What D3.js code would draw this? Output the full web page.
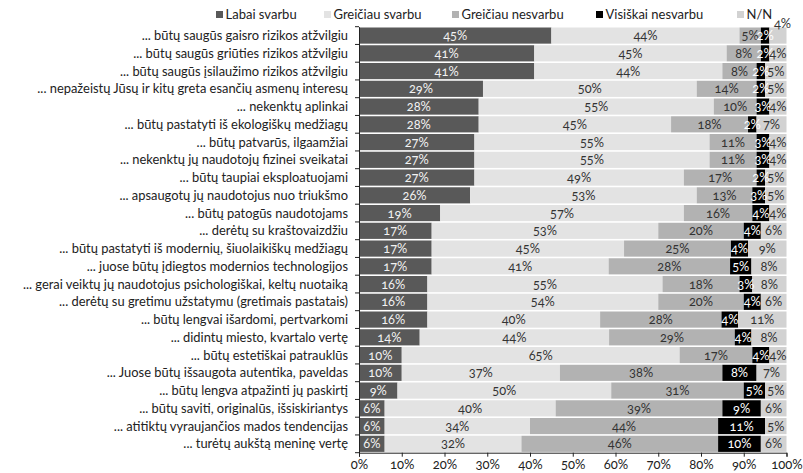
<!DOCTYPE html>
<html><head><meta charset="utf-8">
<script src="https://cdn.jsdelivr.net/npm/d3@7"></script>
<style>
html,body{margin:0;padding:0;background:#fff;}
svg text{font-family:Lato,"Open Sans",sans-serif;font-variant-numeric:oldstyle-nums;}
</style></head><body>
<svg id="chart" width="803" height="473"></svg>
<script>
const categories = [
"... būtų saugūs gaisro rizikos atžvilgiu",
"... būtų saugūs griūties rizikos atžvilgiu",
"... būtų saugūs įsilaužimo rizikos atžvilgiu",
"... nepažeistų Jūsų ir kitų greta esančių asmenų interesų",
"... nekenktų aplinkai",
"... būtų pastatyti iš ekologiškų medžiagų",
"... būtų patvarūs, ilgaamžiai",
"... nekenktų jų naudotojų fizinei sveikatai",
"... būtų taupiai eksploatuojami",
"... apsaugotų  jų naudotojus nuo triukšmo",
"... būtų patogūs naudotojams",
"... derėtų su kraštovaizdžiu",
"... būtų pastatyti iš modernių, šiuolaikiškų medžiagų",
"... juose būtų įdiegtos modernios technologijos",
"... gerai veiktų jų naudotojus psichologiškai, keltų nuotaiką",
"... derėtų su gretimu užstatymu (gretimais pastatais)",
"... būtų lengvai išardomi, pertvarkomi",
"... didintų miesto, kvartalo vertę",
"... būtų estetiškai patrauklūs",
"... Juose būtų išsaugota autentika, paveldas",
"... būtų lengva atpažinti jų paskirtį",
"... būtų saviti, originalūs, išsiskiriantys",
"... atitiktų vyraujančios mados tendencijas",
"... turėtų aukštą meninę vertę"
];
const labaiSvarbu      = [45,41,41,29,28,28,27,27,27,26,19,17,17,17,16,16,16,14.2,10,10,9,6,6,6];
const greiciauSvarbu   = [44,45,44,50,55,45,55,55,49,53,57,53,45,41.4,55,54,40.4,44.3,65,37,50,40,34,32];
const greiciauNesvarbu = [5,8,8,14,10,18,11,11,17,13,16,20,25,28.4,18,20,28.4,29.4,17,38,31,39,44,46];
const visiskaiNesvarbu = [2,2,2,2,3,2,3,3,2,3,4,4,4,5,3,4,3.9,3.9,4,8,5,9,11,10];
const nn               = [4,4,5,5,4,7,4,4,5,5,4,6,9,8.2,8,6,11.3,8.2,4,7,5,6,5,6];
const seriesNames = ["Labai svarbu","Greičiau svarbu","Greičiau nesvarbu","Visiškai nesvarbu","N/N"];
const xTicks = [0,10,20,30,40,50,60,70,80,90,100];

const seriesValues = [labaiSvarbu, greiciauSvarbu, greiciauNesvarbu, visiskaiNesvarbu, nn];
const colors = ["#595959","#e3e3e3","#b2b2b2","#000000","#d2d2d2"];
const labelColors = ["#f2f2f2","#333","#333","#fff","#333"];

const rows = categories.map((c,i)=>{
  const o={cat:c};
  seriesNames.forEach((s,j)=>o[s]=seriesValues[j][i]);
  return o;
});
const stacked = d3.stack().keys(seriesNames)(rows);

const svg = d3.select("#chart");
const m = {left:359, right:803-786.5, top:26.7, bottom:473-452.7};
const W = 803, H = 473;
const x = d3.scaleLinear().domain([0,100]).range([m.left, W-m.right]);
const y = d3.scaleBand().domain(categories).range([m.top, H-m.bottom]).paddingInner(0.09).paddingOuter(0.045);

// bars
const g = svg.append("g");
stacked.forEach((s,j)=>{
  g.append("g").selectAll("rect").data(s).join("rect")
    .attr("x",d=>x(d[0])).attr("width",d=>x(d[1])-x(d[0]))
    .attr("y",d=>y(d.data.cat)).attr("height",y.bandwidth())
    .attr("fill",colors[j]);
});
// labels
stacked.forEach((s,j)=>{
  g.append("g").selectAll("text").data(s).join("text")
    .attr("x",(d,i)=> (j===4 && i===0) ? x(100)-4 : x((d[0]+d[1])/2))
    .attr("y",(d,i)=> (j===4 && i===0) ? y(d.data.cat)+1 : y(d.data.cat)+y.bandwidth()/2+4.5)
    .attr("text-anchor","middle")
    .attr("font-size",12.8)
    .attr("fill",labelColors[j])
    .text(d=>Math.round(d[1]-d[0])+"%");
});

// y axis
const yAxis = d3.axisLeft(y).tickSize(0).tickPadding(11);
const ya = svg.append("g").attr("transform",`translate(${m.left},0)`).call(yAxis);
ya.select(".domain").attr("stroke","#222");
ya.selectAll("text").attr("font-size",12.9).attr("fill","#222").attr("dy","0.35em");
// boundary ticks between bands
const bounds = d3.range(categories.length+1).map(i=>m.top + i*((H-m.bottom-m.top)/categories.length));
svg.append("g").selectAll("line").data(bounds).join("line")
  .attr("x1",m.left-4).attr("x2",m.left).attr("y1",d=>d).attr("y2",d=>d)
  .attr("stroke","#222");

// x axis
const xAxis = d3.axisBottom(x).tickValues(xTicks).tickFormat(d=>d+"%").tickSize(4).tickPadding(3);
const xa = svg.append("g").attr("transform",`translate(0,${H-m.bottom})`).call(xAxis);
xa.select(".domain").attr("stroke","#222");
xa.selectAll(".tick line").attr("stroke","#222");
xa.selectAll("text").attr("font-size",13).attr("fill","#222");

// legend
const legX = [216,324,452,596,737];
const leg = svg.append("g");
seriesNames.forEach((s,j)=>{
  leg.append("rect").attr("x",legX[j]).attr("y",11).attr("width",7).attr("height",7).attr("fill",colors[j]);
  leg.append("text").attr("x",legX[j]+9.5).attr("y",18.5).attr("font-size",13).attr("fill","#222").text(s);
});
</script></body></html>
